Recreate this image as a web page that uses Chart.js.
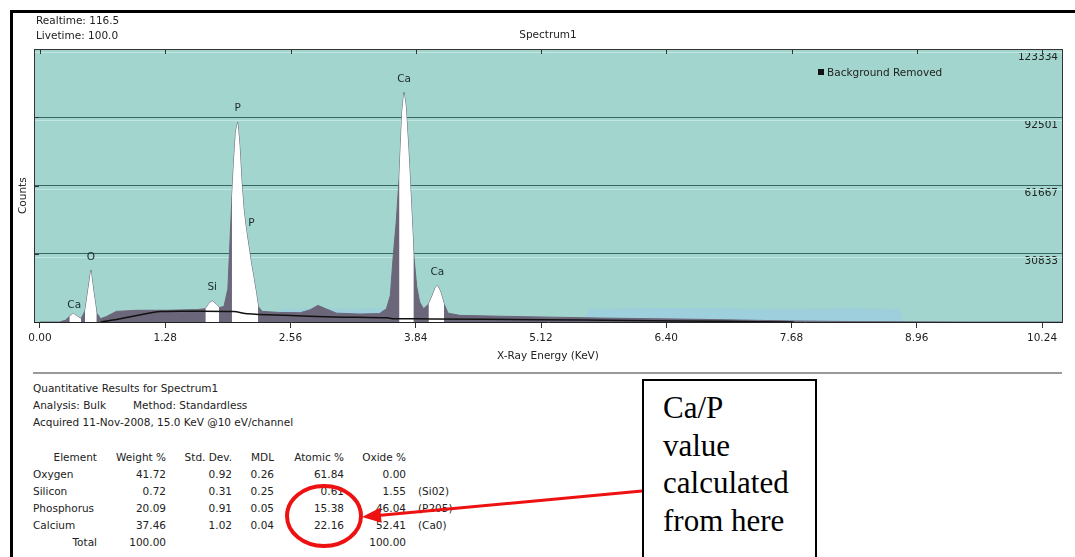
<!DOCTYPE html>
<html>
<head>
<meta charset="utf-8">
<script src="https://cdn.jsdelivr.net/npm/chart.js@4.4.1/dist/chart.umd.min.js"></script>
<style>
  html, body { margin: 0; padding: 0; background: #fff; }
  body {
    width: 1075px; height: 557px; position: relative; overflow: hidden;
    font-family: "DejaVu Sans", sans-serif; font-size: 10.5px; color: #222;
  }
  #frame {
    position: absolute; left: 10px; top: 10px; width: 1100px; height: 600px;
    border-left: 3px solid #000; border-top: 3px solid #000;
  }
  #chartWrap { position: absolute; left: 0; top: 0; width: 1075px; height: 370px; }
  .txt { position: absolute; white-space: pre; line-height: 12px; }
  #counts { position: absolute; left: 4px; top: 190px; width: 36px; text-align: center;
    transform: rotate(-90deg); line-height: 12px; }
  #legendBox { position: absolute; left: 818px; top: 69px; width: 6px; height: 6px; background: #111; }
  #sep { position: absolute; left: 33px; top: 372px; width: 1029px; border-top: 2px solid #9a9a9a; }
  #note {
    position: absolute; left: 642px; top: 379px; width: 175px; height: 220px;
    border: 2px solid #000; background: #fff;
    font-family: "Liberation Serif", "Times New Roman", serif; font-size: 31px; line-height: 37.5px;
    padding: 8px 0 0 19px; box-sizing: border-box; color: #000;
  }
  #marks { position: absolute; left: 0; top: 0; }
</style>
</head>
<body>
<div id="frame"></div>
<div id="chartWrap"><canvas id="spectrum" width="1075" height="370"></canvas></div>
<div class="txt" style="left:36px;top:14px">Realtime: 116.5</div>
<div class="txt" style="left:36px;top:29px">Livetime: 100.0</div>
<div id="counts">Counts</div>
<div id="legendBox"></div>
<div class="txt" style="left:827px;top:66px">Background Removed</div>
<div id="sep"></div>
<div id="results"></div>
<div id="note">Ca/P<br>value<br>calculated<br>from here</div>
<svg id="marks" width="1075" height="557">
  <ellipse cx="324" cy="516" rx="37" ry="30" fill="none" stroke="#ee1111" stroke-width="4"/>
  <line x1="642" y1="491" x2="378" y2="515.5" stroke="#ee1111" stroke-width="3"/>
  <polygon points="362,517 380.2,507.7 381.6,522.7" fill="#ee1111"/>
</svg>

<script>
// --- spectrum data (energy in keV, counts) ---
const spectrumKeV = [0.00, 0.20, 0.26, 0.30, 0.34, 0.38, 0.42, 0.46, 0.49, 0.52, 0.55, 0.58, 0.62,
  0.68, 0.78, 1.00, 1.30, 1.60, 1.69, 1.73, 1.76, 1.80, 1.83, 1.88, 1.92, 1.94, 1.96, 1.98, 2.00,
  2.02, 2.04, 2.06, 2.08, 2.10, 2.12, 2.14, 2.16, 2.18, 2.21, 2.23, 2.27, 2.45, 2.66, 2.76, 2.84,
  2.92, 3.03, 3.27, 3.47, 3.54, 3.58, 3.61, 3.64, 3.67, 3.70, 3.72, 3.74, 3.77, 3.80, 3.82, 3.85,
  3.88, 3.92, 3.97, 4.01, 4.04, 4.06, 4.09, 4.13, 4.17, 4.29, 4.70, 5.21, 5.72, 6.75, 7.66, 8.28,
  8.79, 9.50, 10.44];
const spectrumCounts = [0, 0, 800, 2500, 3800, 2600, 1500, 5000, 14000, 23400, 13000, 4000, 1500,
  2500, 4800, 5300, 5300, 5600, 6000, 8500, 9500, 8000, 6500, 7000, 15000, 35000, 55000, 72000, 86000,
  90200, 80000, 64000, 52000, 44000, 38000, 32000, 26000, 21000, 13000, 7000, 4800, 4300, 4200, 5500, 7500,
  6000, 4000, 3600, 3800, 6000, 12000, 30000, 45000, 65000, 95000, 103700, 97000, 75000, 48000, 30000, 16000,
  9000, 6000, 8000, 12000, 15500, 16500, 14000, 8000, 4000, 3000, 2600, 2200, 1800, 1200, 500, 200,
  100, 0, 0];

// fitted background curve
const backgroundKeV = [0.62, 0.82, 1.02, 1.23, 1.53, 1.98, 2.12, 2.50, 3.00, 3.55, 3.60, 4.00, 5.10, 6.00, 7.00, 7.70];
const backgroundCounts = [0, 1500, 3200, 4700, 4900, 4700, 3700, 3000, 2300, 1900, 1500, 1400, 1000, 700, 300, 0];

// faint second trace
const overlayKeV = [2.40, 2.45, 2.80, 3.20, 3.50, 3.55, 5.55, 5.62, 6.50, 7.50, 8.40, 8.79, 8.82];
const overlayCounts = [0, 5800, 6300, 6000, 6200, 0, 0, 6000, 6300, 6000, 6200, 5800, 0];

// identified peak windows (keV)
const peakWindows = [[0.30, 0.42], [0.46, 0.58], [1.69, 1.83], [1.96, 2.23], [3.67, 3.82], [3.97, 4.13]];

// line markers
const peakLabels = ['Ca', 'O', 'Si', 'P', 'P', 'Ca', 'Ca'];
const peakLabelKeV = [0.35, 0.52, 1.76, 2.02, 2.16, 3.72, 4.06];
const peakLabelCounts = [7700, 29300, 15800, 96600, 44700, 109800, 22600];

const xTickValues = [0, 1.28, 2.56, 3.84, 5.12, 6.40, 7.68, 8.96, 10.24];
const yTickValues = [30833, 61667, 92501, 123334];

// --- quantitative results ---
const elements = ['Oxygen', 'Silicon', 'Phosphorus', 'Calcium'];
const weightPct = [41.72, 0.72, 20.09, 37.46];
const stdDev = [0.92, 0.31, 0.91, 1.02];
const mdl = [0.26, 0.25, 0.05, 0.04];
const atomicPct = [61.84, 0.61, 15.38, 22.16];
const oxidePct = [0.00, 1.55, 46.04, 52.41];
const oxideFormula = ['', '(Si02)', '(P205)', '(Ca0)'];
const weightTotal = 100.00;
const oxideTotal = 100.00;

const PAGE_W = 1075;

function place(parent, text, x, y, align) {
  const d = document.createElement('div');
  d.className = 'txt';
  d.textContent = text;
  d.style.top = y + 'px';
  if (align === 'right') d.style.right = (PAGE_W - x) + 'px';
  else d.style.left = x + 'px';
  parent.appendChild(d);
}

function buildResults() {
  const box = document.getElementById('results');
  place(box, 'Quantitative Results for Spectrum1', 33, 382);
  place(box, 'Analysis: Bulk', 33, 399);
  place(box, 'Method: Standardless', 133, 399);
  place(box, 'Acquired 11-Nov-2008, 15.0 KeV @10 eV/channel', 33, 416);

  const top = 451, step = 17;
  place(box, 'Element', 97, top, 'right');
  elements.forEach((el, i) => place(box, el, 33, top + step * (i + 1)));
  place(box, 'Total', 97, top + step * 5, 'right');

  const cols = [
    { head: 'Weight %', vals: weightPct, right: 166, total: weightTotal },
    { head: 'Std. Dev.', vals: stdDev, right: 232 },
    { head: 'MDL', vals: mdl, right: 274 },
    { head: 'Atomic %', vals: atomicPct, right: 344 },
    { head: 'Oxide %', vals: oxidePct, right: 406, total: oxideTotal }
  ];
  cols.forEach(c => {
    place(box, c.head, c.right, top, 'right');
    c.vals.forEach((v, i) => place(box, v.toFixed(2), c.right, top + step * (i + 1), 'right'));
    if (c.total !== undefined) place(box, c.total.toFixed(2), c.right, top + step * 5, 'right');
  });
  oxideFormula.forEach((f, i) => { if (f) place(box, f, 418, top + step * (i + 1)); });
}
buildResults();

// --- chart ---
Chart.defaults.font.family = '"DejaVu Sans", sans-serif';
Chart.defaults.font.size = 10.5;
Chart.defaults.color = '#222';

const toPoints = (xs, ys) => xs.map((x, i) => ({ x: x, y: ys[i] }));
const spectrumPoints = toPoints(spectrumKeV, spectrumCounts);

const windowDatasets = peakWindows.map(([a, b]) => ({
  label: 'peak',
  data: spectrumPoints.filter(p => p.x >= a - 1e-9 && p.x <= b + 1e-9),
  backgroundColor: '#ffffff',
  borderColor: '#ffffff',
  borderWidth: 0,
  fill: 'origin',
  pointRadius: 0,
  tension: 0,
  order: 1
}));

const plotDecor = {
  id: 'plotDecor',
  beforeDraw(chart) {
    const { ctx, chartArea: a } = chart;
    ctx.save();
    ctx.fillStyle = '#a1d5ce';
    ctx.fillRect(a.left, a.top, a.right - a.left, a.bottom - a.top);
    ctx.restore();
  },
  beforeDatasetsDraw(chart) {
    const { ctx, chartArea: a, scales: { y } } = chart;
    ctx.save();
    ctx.strokeStyle = '#c2e6e0';
    ctx.lineWidth = 1;
    yTickValues.forEach(v => {
      const py = Math.round(y.getPixelForValue(v)) + 3.5;
      if (py > a.bottom - 2) return;
      ctx.beginPath();
      ctx.moveTo(a.left, py);
      ctx.lineTo(a.right, py);
      ctx.stroke();
    });
    ctx.restore();
  },
  afterDatasetsDraw(chart) {
    const { ctx, scales: { x, y } } = chart;
    ctx.save();
    ctx.fillStyle = '#1d2a2a';
    ctx.font = '10.5px "DejaVu Sans", sans-serif';
    ctx.textAlign = 'center';
    ctx.textBaseline = 'middle';
    peakLabels.forEach((t, i) => {
      ctx.fillText(t, x.getPixelForValue(peakLabelKeV[i]), y.getPixelForValue(peakLabelCounts[i]));
    });
    ctx.restore();
  },
  afterDraw(chart) {
    const { ctx, chartArea: a, scales: { x, y } } = chart;
    ctx.save();
    ctx.strokeStyle = '#333';
    ctx.lineWidth = 1;
    ctx.beginPath();
    ctx.moveTo(a.left + 0.5, a.bottom);
    ctx.lineTo(a.left + 0.5, a.top + 0.5);
    ctx.lineTo(a.right, a.top + 0.5);
    ctx.stroke();
    // small tick marks along top and left edges
    xTickValues.forEach(v => {
      const px = Math.round(x.getPixelForValue(v)) + 0.5;
      ctx.beginPath();
      ctx.moveTo(px, a.top);
      ctx.lineTo(px, a.top + 5);
      ctx.stroke();
    });
    yTickValues.forEach(v => {
      const py = Math.round(y.getPixelForValue(v)) + 0.5;
      ctx.beginPath();
      ctx.moveTo(a.left, py);
      ctx.lineTo(a.left + 5, py);
      ctx.stroke();
    });
    ctx.restore();
  }
};

new Chart(document.getElementById('spectrum'), {
  type: 'line',
  data: {
    datasets: [
      {
        label: 'background',
        data: toPoints(backgroundKeV, backgroundCounts),
        borderColor: '#111',
        borderWidth: 1.5,
        fill: false,
        pointRadius: 0,
        tension: 0.3,
        order: 0
      },
      ...windowDatasets,
      {
        label: 'spectrum',
        data: spectrumPoints,
        backgroundColor: '#6b6679',
        borderColor: '#6b6679',
        borderWidth: 1,
        fill: 'origin',
        pointRadius: 0,
        tension: 0,
        order: 2
      },
      {
        label: 'overlay',
        data: toPoints(overlayKeV, overlayCounts),
        backgroundColor: '#9dcfdd',
        borderColor: '#9dcfdd',
        borderWidth: 0,
        fill: 'origin',
        pointRadius: 0,
        tension: 0,
        order: 3
      }
    ]
  },
  options: {
    responsive: false,
    animation: false,
    devicePixelRatio: 1,
    layout: { padding: { left: 34, right: 13, top: 2.4, bottom: 0 } },
    plugins: {
      legend: { display: false },
      tooltip: { enabled: false },
      title: {
        display: true,
        text: 'Spectrum1',
        color: '#222',
        font: { size: 10.5, weight: 'normal' },
        padding: { top: 27, bottom: 7 }
      }
    },
    scales: {
      x: {
        type: 'linear',
        min: -0.0613,
        max: 10.444,
        afterBuildTicks: axis => { axis.ticks = xTickValues.map(v => ({ value: v })); },
        afterFit: axis => { axis.height = 48; },
        ticks: {
          autoSkip: false,
          maxRotation: 0,
          padding: 4,
          color: '#222',
          callback: v => Number(v).toFixed(2)
        },
        grid: { drawOnChartArea: false, drawTicks: true, tickLength: 6, color: '#333' },
        border: { color: '#222' },
        title: {
          display: true,
          text: 'X-Ray Energy (KeV)',
          color: '#222',
          padding: { top: 0, bottom: 7 }
        }
      },
      y: {
        position: 'right',
        min: 0,
        max: 123334,
        afterBuildTicks: axis => { axis.ticks = yTickValues.map(v => ({ value: v })); },
        afterFit: axis => { axis.width = 0; },
        ticks: {
          mirror: true,
          padding: -4,
          labelOffset: 8,
          color: '#222',
          callback: v => String(v)
        },
        grid: { color: '#38655f', drawTicks: false },
        border: { color: '#333' }
      }
    }
  },
  plugins: [plotDecor]
});
</script>
</body>
</html>
